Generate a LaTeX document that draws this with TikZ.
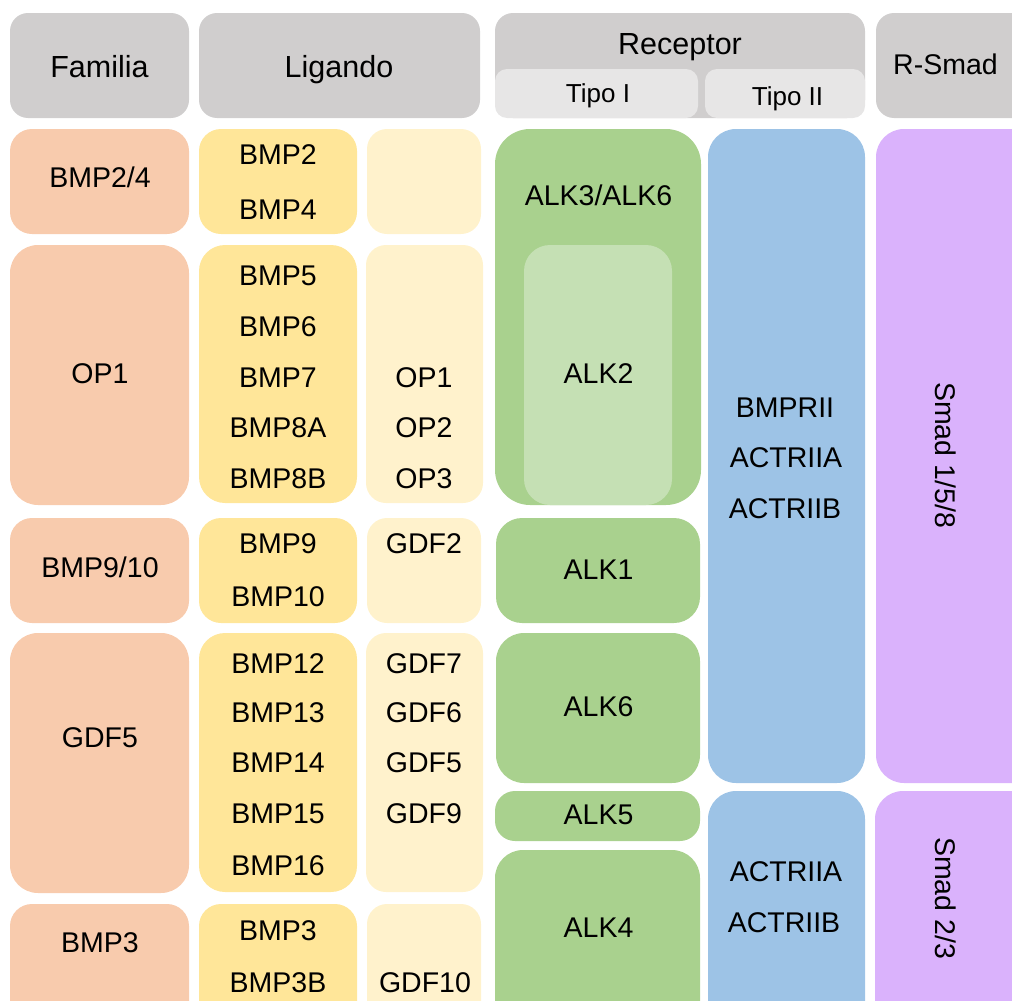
\documentclass[tikz,border=0pt]{standalone}
\usepackage{fontspec}
\setmainfont{Liberation Sans}
\usetikzlibrary{fit}
\definecolor{hgray}{HTML}{D0CECE}
\definecolor{lgray}{HTML}{E7E6E6}
\definecolor{salmon}{HTML}{F8CBAD}
\definecolor{ylw}{HTML}{FFE699}
\definecolor{lylw}{HTML}{FFF2CC}
\definecolor{grn}{HTML}{A9D18E}
\definecolor{lgrn}{HTML}{C5E0B4}
\definecolor{blu}{HTML}{9DC3E6}
\definecolor{prp}{HTML}{DAB2FC}
\tikzset{
  bx/.style 2 args={rectangle, fill=#1, draw=none, rounded corners=#2, inner sep=0pt, outer sep=0pt},
  lb/.style={inner sep=0pt, text height=20.4pt, text depth=0pt, font=\fontsize{28.5}{30}\selectfont},
  hd/.style={inner sep=0pt, text height=21.8pt, text depth=0pt, font=\fontsize{30.5}{32}\selectfont},
  sub/.style={inner sep=0pt, text height=18.6pt, text depth=0pt, font=\fontsize{26}{28}\selectfont},
}
\begin{document}
\begin{tikzpicture}[x=1pt,y=-1pt]
\useasboundingbox (0,0) rectangle (1012,1001);
\clip (0,0) rectangle (1012,1001);
% headers
\node[bx={hgray}{18pt}, fit={(10,13)(189,118)}] (hFam) {};
\node[bx={hgray}{18pt}, fit={(199,13)(480,118)}] (hLig) {};
\node[bx={hgray}{18pt}, fit={(495,13)(865,118)}] (hRec) {};
\node[bx={lgray}{12pt}, fit={(495,69)(698,118)}] (hT1) {};
\node[bx={lgray}{12pt}, fit={(705,69)(865,118)}] (hT2) {};
\node[bx={hgray}{18pt}, fit={(876,13)(1045,118)}] (hSmad) {};
\node[hd] (tFam) at (99.5,67) {Familia};
\node[hd] (tLig) at (339,67) {Ligando};
\node[hd] (tRec) at (680,44) {Receptor};
\node[sub] (tT1) at (598,93) {Tipo I};
\node[sub] (tT2) at (787.5,96) {Tipo II};
\node[lb] (tSmad) at (945.5,64.5) {R-Smad};
% familia
\node[bx={salmon}{22pt}, fit={(10,129)(189,234)}] (f1) {};
\node[bx={salmon}{28pt}, fit={(10,245)(189,505)}] (f2) {};
\node[bx={salmon}{22pt}, fit={(10,518)(189,623)}] (f3) {};
\node[bx={salmon}{28pt}, fit={(10,633)(189,893)}] (f4) {};
\node[bx={salmon}{22pt}, fit={(10,904)(189,1040)}] (f5) {};
\node[lb] (tf1) at (100,177) {BMP2/4};
\node[lb] (tf2) at (100,373) {OP1};
\node[lb] (tf3) at (100,567) {BMP9/10};
\node[lb] (tf4) at (100,737) {GDF5};
\node[lb] (tf5) at (100,942.5) {BMP3};
% ligands
\node[bx={ylw}{22pt}, fit={(199,129)(357,234)}] (l1) {};
\node[bx={ylw}{26pt}, fit={(199,245)(357,503)}] (l2) {};
\node[bx={ylw}{22pt}, fit={(199,518)(357,623)}] (l3) {};
\node[bx={ylw}{26pt}, fit={(199,633)(357,892)}] (l4) {};
\node[bx={ylw}{22pt}, fit={(199,904)(357,1040)}] (l5) {};
\node[bx={lylw}{20pt}, fit={(367,129)(481,234)}] (m1) {};
\node[bx={lylw}{20pt}, fit={(366,245)(483,503)}] (m2) {};
\node[bx={lylw}{20pt}, fit={(367,518)(481,623)}] (m3) {};
\node[bx={lylw}{20pt}, fit={(366,633)(483,892)}] (m4) {};
\node[bx={lylw}{20pt}, fit={(367,904)(481,1040)}] (m5) {};
\node[lb] (tBMP2) at (278,154) {BMP2};
\node[lb] (tBMP4) at (278,209) {BMP4};
\node[lb] (tBMP5) at (278,275) {BMP5};
\node[lb] (tBMP6) at (278,326) {BMP6};
\node[lb] (tBMP7) at (278,377) {BMP7};
\node[lb] (tBMP8A) at (278,427.5) {BMP8A};
\node[lb] (tBMP8B) at (278,478) {BMP8B};
\node[lb] (tBMP9) at (278,543) {BMP9};
\node[lb] (tBMP10) at (278,596) {BMP10};
\node[lb] (tBMP12) at (278,663) {BMP12};
\node[lb] (tBMP13) at (278,712.5) {BMP13};
\node[lb] (tBMP14) at (278,762.5) {BMP14};
\node[lb] (tBMP15) at (278,813.5) {BMP15};
\node[lb] (tBMP16) at (278,865) {BMP16};
\node[lb] (tBMP3) at (278,930) {BMP3};
\node[lb] (tBMP3B) at (278,982) {BMP3B};
\node[lb] (tOP1) at (424,377) {OP1};
\node[lb] (tOP2) at (424,427.5) {OP2};
\node[lb] (tOP3) at (424,478) {OP3};
\node[lb] (tGDF2) at (424,543) {GDF2};
\node[lb] (tGDF7) at (424,663) {GDF7};
\node[lb] (tGDF6) at (424,712.5) {GDF6};
\node[lb] (tGDF5) at (424,762.5) {GDF5};
\node[lb] (tGDF9) at (424,813.5) {GDF9};
\node[lb] (tGDF10) at (425,982) {GDF10};
% type I receptors
\node[bx={grn}{35pt}, fit={(495,129)(701,505)}] (g1) {};
\node[bx={lgrn}{26pt}, fit={(524,245)(672,505)}] (g1in) {};
\node[bx={grn}{26pt}, fit={(496,518)(700,623)}] (g2) {};
\node[bx={grn}{28pt}, fit={(496,633)(700,783)}] (g3) {};
\node[bx={grn}{20pt}, fit={(495,791)(700,841)}] (g4) {};
\node[bx={grn}{28pt}, fit={(495,850)(700,1040)}] (g5) {};
\node[lb] (tALK36) at (598.5,195) {ALK3/ALK6};
\node[lb] (tALK2) at (598.5,373) {ALK2};
\node[lb] (tALK1) at (598.5,569) {ALK1};
\node[lb] (tALK6) at (598.5,706) {ALK6};
\node[lb] (tALK5) at (598.5,814) {ALK5};
\node[lb] (tALK4) at (598.5,927) {ALK4};
% type II receptors
\node[bx={blu}{28pt}, fit={(708,129)(865,783)}] (b1) {};
\node[bx={blu}{28pt}, fit={(708,791)(865,1040)}] (b2) {};
\node[lb] (tBMPRII) at (785,407) {BMPRII};
\node[lb] (tACTRIIA1) at (786,457) {ACTRIIA};
\node[lb] (tACTRIIB1) at (785,508) {ACTRIIB};
\node[lb] (tACTRIIA2) at (786,871) {ACTRIIA};
\node[lb] (tACTRIIB2) at (784,922.5) {ACTRIIB};
% R-Smad
\node[bx={prp}{28pt}, fit={(876,129)(1045,783)}] (p1) {};
\node[bx={prp}{28pt}, fit={(875,791)(1045,1040)}] (p2) {};
\node[lb, rotate=-90] (tS158) at (946,455) {Smad 1/5/8};
\node[lb, rotate=-90] (tS23) at (946,898) {Smad 2/3};
\end{tikzpicture}
\end{document}
